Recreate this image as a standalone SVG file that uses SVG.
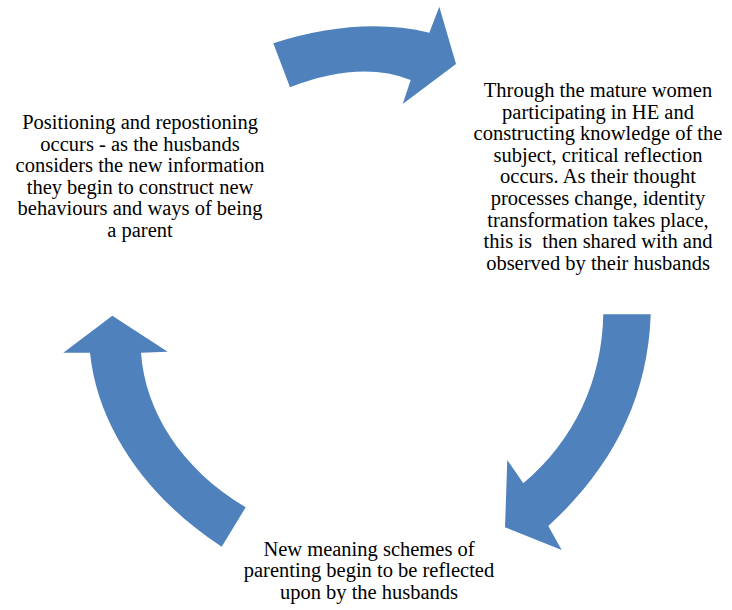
<svg xmlns="http://www.w3.org/2000/svg" width="732" height="610" viewBox="0 0 732 610">
<style>
.arrow{fill:#4F81BD;stroke:none}
.t{font-family:"Liberation Serif","Times New Roman",serif;font-size:20.5px;fill:#000;text-anchor:middle}
</style>
<rect width="732" height="610" fill="#fff"/>
<g id="connectors">
<path id="arrow-top" class="arrow" d="M273.3,43.3 Q359,16 429.3,32.7 L439.3,6.7 L456,64 L402.7,104 L410.7,80 Q360,60 290,87.3 Z"/>
<path id="arrow-right" class="arrow" d="M603.3,314.3 L650.7,314.3 C648,400 610,470 548.3,526 L561.7,550 L505,527.3 L507.3,460 L523.3,483.3 C575,440 602,380 603.3,314.3 Z"/>
<path id="arrow-left" class="arrow" d="M221.7,546.7 C150,500 98,430 90,352.7 L63.3,352.7 L112.3,315.7 L167.7,351.7 L141,352.7 C145,410 180,468 245.7,507.3 Z"/>
</g>
<g id="node-right">
<text class="t" x="598" y="97">Through the mature women</text>
<text class="t" x="598" y="118.6">participating in HE and</text>
<text class="t" x="598" y="140.2">constructing knowledge of the</text>
<text class="t" x="598" y="161.8">subject, critical reflection</text>
<text class="t" x="598" y="183.4">occurs. As their thought</text>
<text class="t" x="598" y="205">processes change, identity</text>
<text class="t" x="598" y="226.6">transformation takes place,</text>
<text class="t" x="598" y="248.2" xml:space="preserve">this is  then shared with and</text>
<text class="t" x="598" y="269.8">observed by their husbands</text>
</g>
<g id="node-bottom">
<text class="t" x="369" y="556">New meaning schemes of</text>
<text class="t" x="369" y="577.3">parenting begin to be reflected</text>
<text class="t" x="369" y="598.6">upon by the husbands</text>
</g>
<g id="node-left">
<text class="t" x="140" y="129">Positioning and repostioning</text>
<text class="t" x="140" y="150.5">occurs - as the husbands</text>
<text class="t" x="140" y="172">considers the new information</text>
<text class="t" x="140" y="193.5">they begin to construct new</text>
<text class="t" x="140" y="215">behaviours and ways of being</text>
<text class="t" x="140" y="236.5">a parent</text>
</g>
</svg>
